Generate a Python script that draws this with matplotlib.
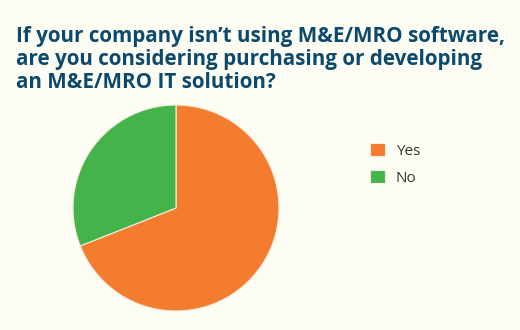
import matplotlib
matplotlib.use("Agg")
import matplotlib.pyplot as plt

# ---- Data ----------------------------------------------------------------
labels = ["Yes", "No"]
shares = [69, 31]          # percent
colors = ["#f47c2e", "#44b34a"]

TITLE = ("If your company isn\u2019t using M&E/MRO software,\n"
         "are you considering purchasing or developing\n"
         "an M&E/MRO IT solution?")

BG = "#fdfdf3"

fig = plt.figure(figsize=(5.2, 3.3), dpi=100, facecolor=BG)

# pie area in figure pixels: centre ~(176, 208), radius ~103
W, H = 520, 330
cx, cy, r = 176, 208, 103
ax = fig.add_axes([(cx - r) / W, (H - cy - r) / H, 2 * r / W, 2 * r / H])
ax.set_facecolor(BG)

wedges, _ = ax.pie(shares, colors=colors, startangle=90, counterclock=False,
                   wedgeprops=dict(edgecolor="#f3efe0", linewidth=0.8))
ax.set_xlim(-1, 1)
ax.set_ylim(-1, 1)
ax.set_aspect("equal")

fig.text(16 / W, 1 - 26 / H, TITLE, ha="left", va="top",
         fontsize=14.9, fontweight="bold", family="Open Sans",
         color="#0b4a6c", linespacing=1.12)

fig.legend(wedges, labels, loc="upper left", bbox_to_anchor=(356 / W, 1 - 129 / H),
           frameon=False, handlelength=1.0, handleheight=1.0, handletextpad=0.7,
           labelspacing=0.7, prop=dict(family="Open Sans", size=11),
           labelcolor="#333333")

fig.savefig("out.png", dpi=100, facecolor=BG)
